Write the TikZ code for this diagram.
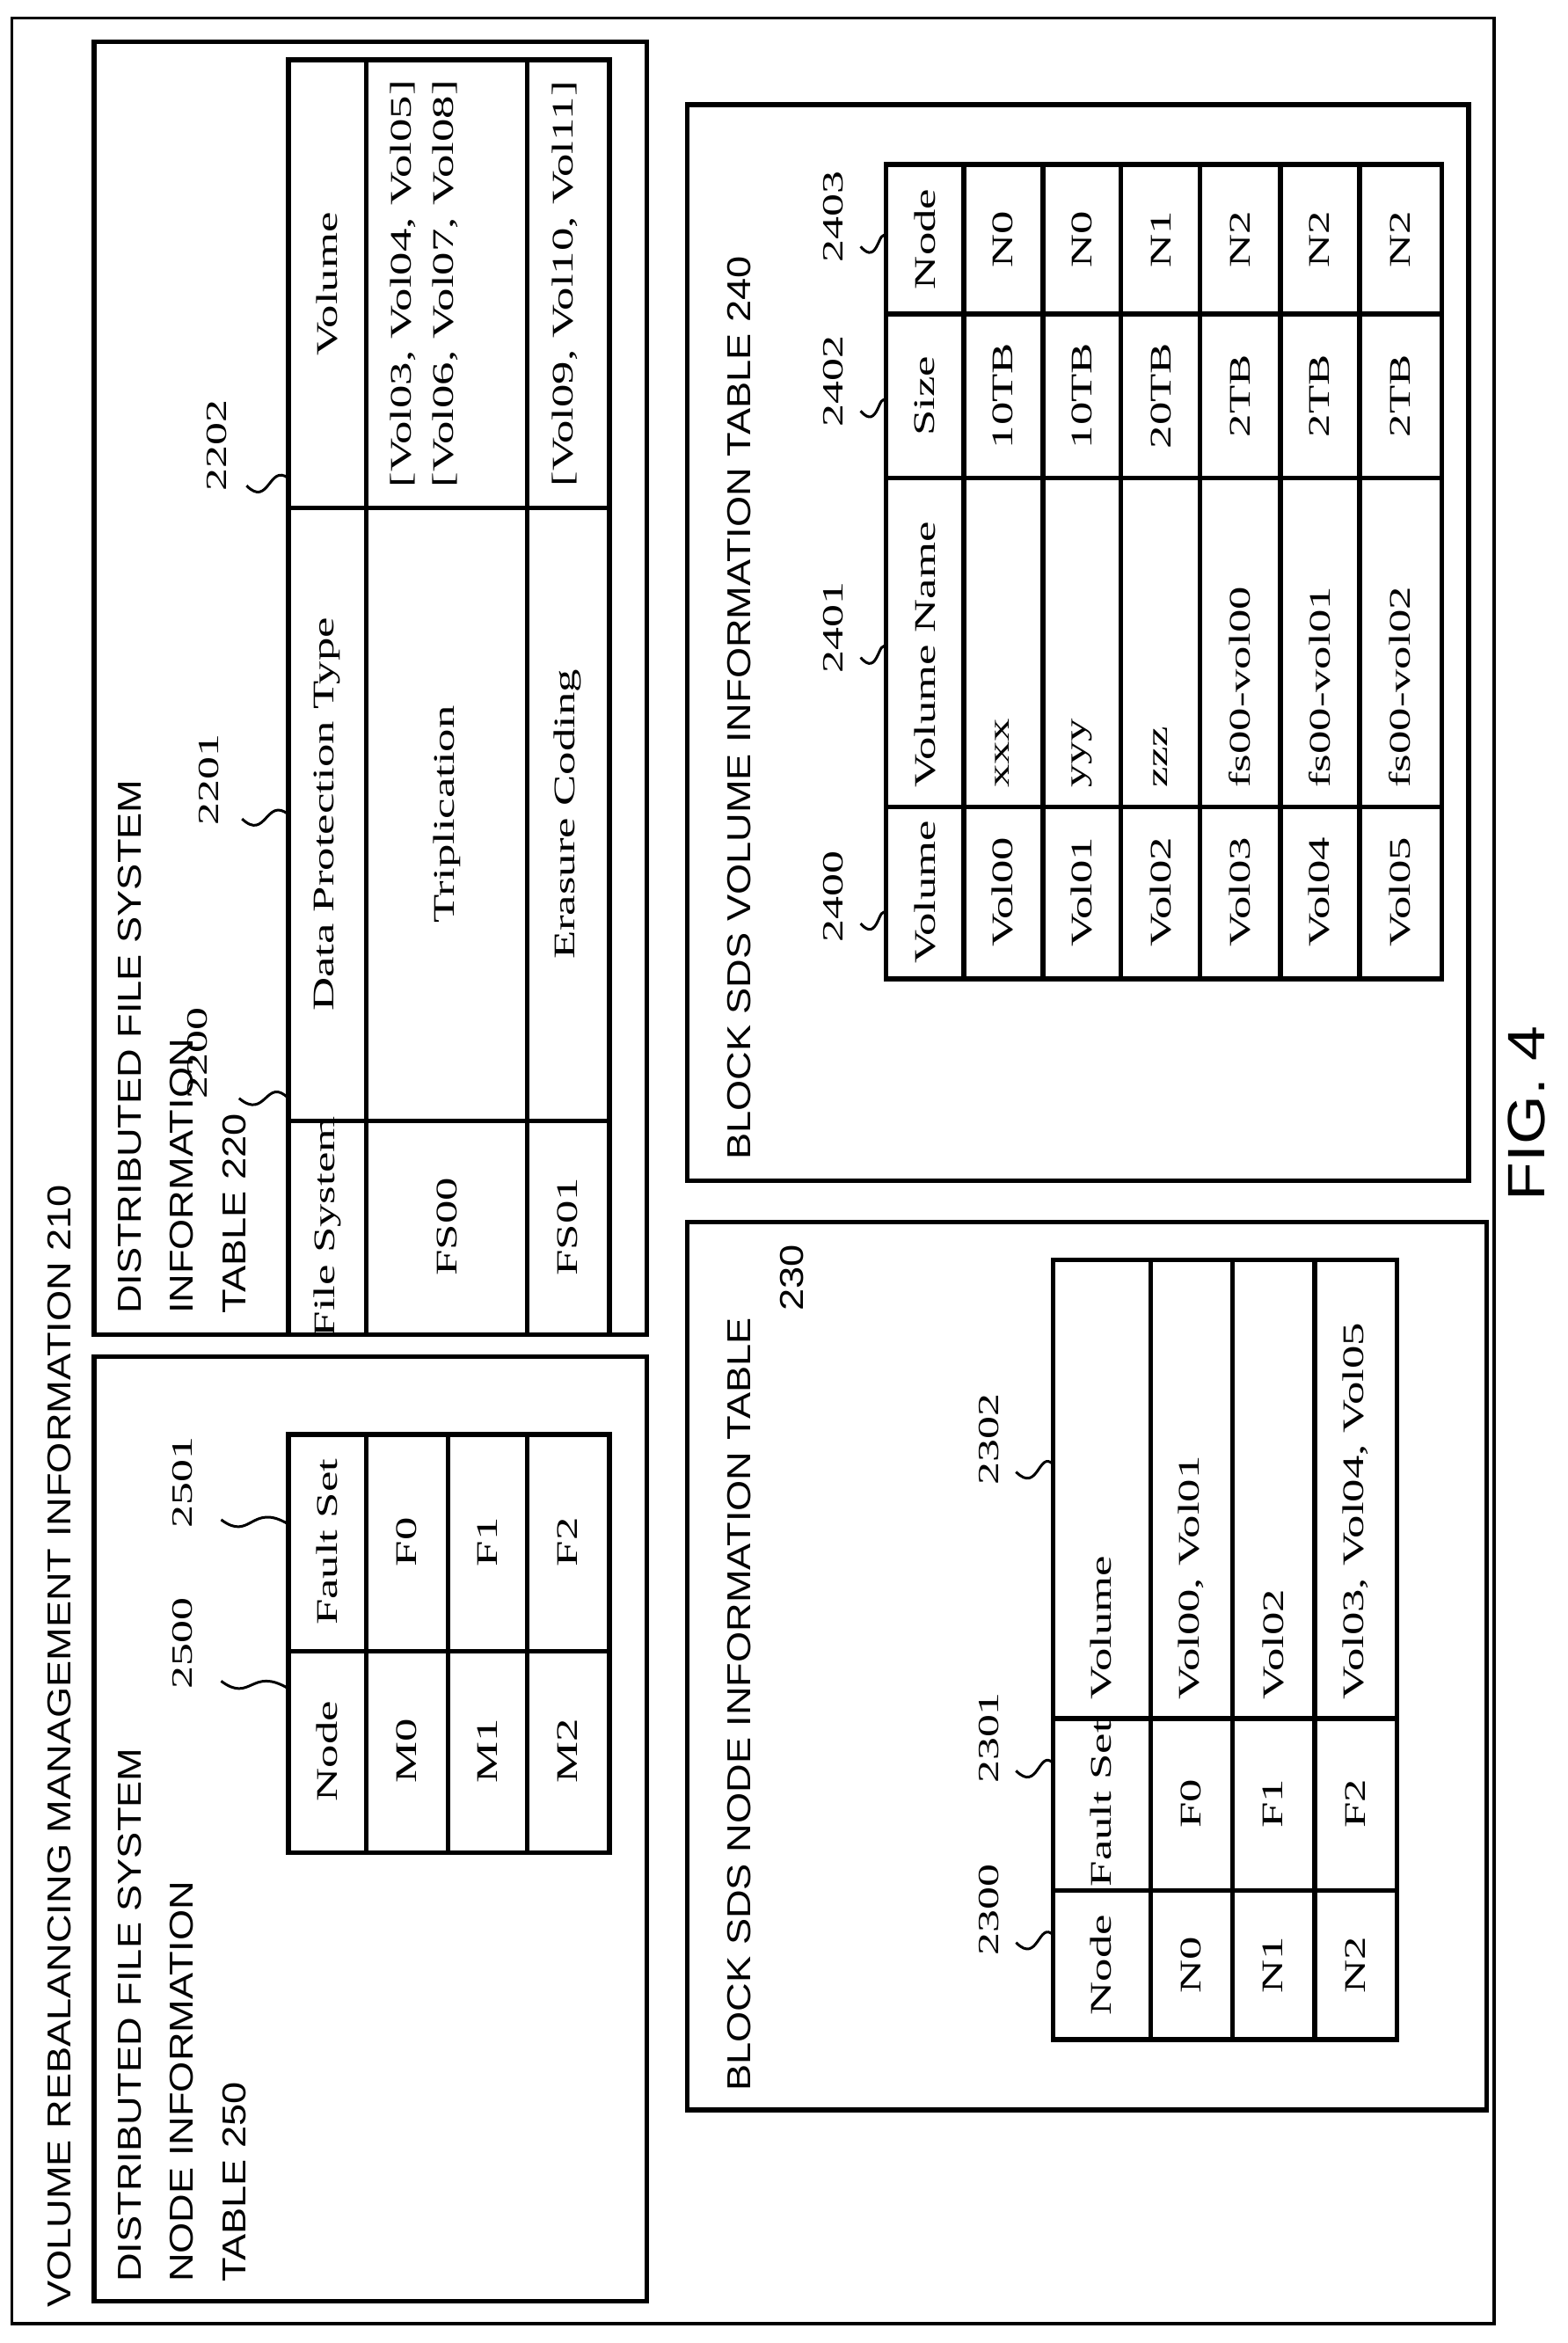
\documentclass[tikz,border=0pt]{standalone}
\usepackage{fontspec}
\newfontfamily\tabf[FakeStretch=1.55]{Liberation Serif}
\newfontfamily\titf[FakeStretch=1.2]{Liberation Sans}
\begin{document}
\begin{tikzpicture}[x=0.01cm,y=-0.01cm,
  box/.style={draw,line width=0.9pt},
  grid/.style={draw,line width=0.9pt},
  t/.style={rotate=90,inner sep=0pt,font=\tabf\fontsize{5.7}{7}\selectfont},
  ttl/.style={rotate=90,inner sep=0pt,anchor=north west,font=\titf\fontsize{6.3}{10}\selectfont,align=left},
  lab/.style={rotate=90,inner sep=0pt,font=\tabf\fontsize{5.6}{7}\selectfont},
  sq/.style={line width=0.5pt}]
\useasboundingbox (0,0) rectangle (1049,1568);
\draw[line width=0.6pt] (8,12) rectangle (1000,1555);
\node[ttl,anchor=west] (main) at (40,1545) {VOLUME REBALANCING MANAGEMENT INFORMATION 210};
% box 250
\draw[box] (63,908) rectangle (433,1540);
\node[ttl] (t250) at (78,1528) {DISTRIBUTED FILE SYSTEM\\NODE INFORMATION\\TABLE 250};
\draw[grid] (193,960) rectangle (408,1240);
\foreach \x in {245,300,353} \draw[grid] (\x,960) -- (\x,1240);
\draw[grid] (193,1105) -- (408,1105);
\foreach \x/\a/\b [count=\i] in {219/Node/Fault Set,272/M0/F0,326/M1/F1,380/M2/F2}{
  \node[t] (n250a\i) at (\x,1172) {\a};
  \node[t] (n250b\i) at (\x,1032) {\b};}
\node[lab] (l2500) at (122,1100) {2500};
\node[lab] (l2501) at (122,992) {2501};
\draw[sq] (148,1125) .. controls (168,1140) and (168,1115) .. (193,1130);
\draw[sq] (148,1017) .. controls (168,1032) and (168,1005) .. (193,1020);
% box 220
\draw[box] (63,28) rectangle (433,893);
\node[ttl] (t220) at (78,880) {DISTRIBUTED FILE SYSTEM\\INFORMATION\\TABLE 220};
\draw[grid] (193,40) rectangle (408,893);
\foreach \x in {245,353} \draw[grid] (\x,40) -- (\x,893);
\foreach \y in {340,750} \draw[grid] (193,\y) -- (408,\y);
\node[t] (h1) at (219,821) {File System};
\node[t] (h2) at (219,545) {Data Protection Type};
\node[t] (h3) at (219,190) {Volume};
\node[t] (f0) at (299,821) {FS00};
\node[t] (f0p) at (299,545) {Triplication};
\node[t] (f0v1) at (270,190) {[Vol03, Vol04, Vol05]};
\node[t] (f0v2) at (298,190) {[Vol06, Vol07, Vol08]};
\node[t] (f1) at (380,821) {FS01};
\node[t] (f1p) at (380,545) {Erasure Coding};
\node[t] (f1v) at (378,190) {[Vol09, Vol10, Vol11]};
\node[lab] (l2200) at (132,705) {2200};
\node[lab] (l2201) at (140,522) {2201};
\node[lab] (l2202) at (145,298) {2202};
\draw[sq] (160,735) .. controls (178,750) and (178,720) .. (193,735);
\draw[sq] (162,548) .. controls (178,563) and (178,533) .. (193,545);
\draw[sq] (165,325) .. controls (180,340) and (180,310) .. (193,320);
% box 230
\draw[box] (460,818) rectangle (995,1412);
\node[ttl,anchor=west] (t230) at (495,1400) {BLOCK SDS NODE INFORMATION TABLE};
\node[ttl,anchor=center] (t230b) at (530,855) {230};
\draw[grid] (705,843) rectangle (935,1365);
\foreach \x in {770,825,880} \draw[grid] (\x,843) -- (\x,1365);
\foreach \y in {1150,1265} \draw[grid] (705,\y) -- (935,\y);
\foreach \x/\a/\b/\c [count=\i] in {737/Node/Fault Set/Volume,797/N0/F0/{Vol00, Vol01},852/N1/F1/Vol02,907/N2/F2/{Vol03, Vol04, Vol05}}{
  \node[t] (n230a\i) at (\x,1315) {\a};
  \node[t] (n230b\i) at (\x,1207) {\b};
  \node[t,anchor=west] (n230c\i) at (\x,1138) {\c};}
\node[lab] (l2300) at (662,1278) {2300};
\node[lab] (l2301) at (662,1163) {2301};
\node[lab] (l2302) at (662,963) {2302};
\draw[sq] (680,1300) .. controls (695,1315) and (695,1285) .. (705,1295);
\draw[sq] (680,1185) .. controls (695,1200) and (695,1170) .. (705,1180);
\draw[sq] (680,985) .. controls (695,1000) and (695,970) .. (705,980);
% box 240
\draw[box] (460,70) rectangle (983,790);
\node[ttl,anchor=west] (t240) at (495,777) {BLOCK SDS VOLUME INFORMATION TABLE 240};
\draw[grid] (593,110) rectangle (965,655);
\foreach \x in {645,698,750,803,857,910} \draw[grid] (\x,110) -- (\x,655);
\foreach \y in {210,320,540} \draw[grid] (593,\y) -- (965,\y);
\foreach \x/\a/\b/\c/\d [count=\i] in {619/Volume/Volume Name/Size/Node,671/Vol00/xxx/10TB/N0,724/Vol01/yyy/10TB/N0,777/Vol02/zzz/20TB/N1,830/Vol03/fs00-vol00/2TB/N2,883/Vol04/fs00-vol01/2TB/N2,937/Vol05/fs00-vol02/2TB/N2}{
  \node[t] (n240a\i) at (\x,597) {\a};
  \node[t,anchor=west] (n240b\i) at (\x,528) {\b};
  \node[t] (n240c\i) at (\x,265) {\c};
  \node[t] (n240d\i) at (\x,160) {\d};}
\node[lab] (l2400) at (558,600) {2400};
\node[lab] (l2401) at (558,420) {2401};
\node[lab] (l2402) at (558,255) {2402};
\node[lab] (l2403) at (558,145) {2403};
\draw[sq] (576,618) .. controls (588,632) and (588,604) .. (593,612);
\draw[sq] (576,440) .. controls (588,454) and (588,426) .. (593,434);
\draw[sq] (576,275) .. controls (588,289) and (588,261) .. (593,269);
\draw[sq] (576,165) .. controls (588,179) and (588,151) .. (593,159);
\node[rotate=90,inner sep=0pt,font=\titf\fontsize{10}{12}\selectfont] (fig) at (1022,745) {FIG. 4};
\end{tikzpicture}
\end{document}
